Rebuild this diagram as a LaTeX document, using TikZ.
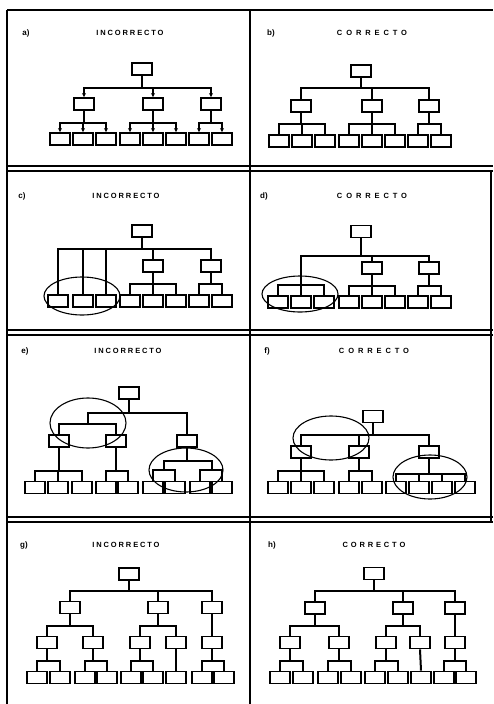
\documentclass[tikz,border=0pt]{standalone}
\usepackage{fontspec}
\setmainfont{Liberation Sans}
\newfontfamily\ttlI{Liberation Sans}[LetterSpace=25]
\newfontfamily\ttlC{Liberation Sans}[LetterSpace=52]
\newfontfamily\ttlH{Liberation Sans}[LetterSpace=38]
\usetikzlibrary{arrows.meta}
\begin{document}
\begin{tikzpicture}[x=1pt,y=-1pt,
  bx/.style={draw,line width=1.8pt,minimum width=20pt,minimum height=12pt,inner sep=0pt},
  conn/.style={line width=2pt},
  aconn/.style={line width=1.6pt,-{Stealth[length=4pt,width=4pt]}},
  ring/.style={draw,line width=1.1pt},
  frame/.style={line width=1.3pt},
  lab/.style={font=\bfseries\fontsize{8}{8}\selectfont,inner sep=0pt},
  tI/.style={font=\ttlI\bfseries\fontsize{7.5}{7.5}\selectfont,inner sep=0pt},
  tC/.style={font=\ttlC\bfseries\fontsize{7.5}{7.5}\selectfont,inner sep=0pt},
  tH/.style={font=\ttlH\bfseries\fontsize{7.5}{7.5}\selectfont,inner sep=0pt}]
\useasboundingbox (0,0) rectangle (493,704);
% frames
\draw[frame] (7,10) -- (493,10);
\draw[frame] (7,10) -- (7,704);
\draw[frame] (250,10) -- (250,704);
\draw[frame] (491,171) -- (491,522);
\foreach \y in {166,171,330,335,517,522} \draw[frame] (7,\y) -- (493,\y);

% ---------- panel a
\node[lab] at (26,33) {a)};
\node[tI] at (130,33) {INCORRECTO};
\node[bx] (a0) at (142,69) {};
\foreach \n/\x in {a1/84,a2/153,a3/211} \node[bx] (\n) at (\x,104) {};
\foreach \n/\x in {a11/60,a12/83,a13/106,a21/130,a22/153,a23/176,a31/199,a32/222} \node[bx] (\n) at (\x,139) {};
\foreach \c in {a1,a2,a3} \draw[aconn] (a0.south) -- ++(0,12) -| (\c.north);
\foreach \c in {a11,a12,a13} \draw[aconn] (a1.south) -- ++(0,12) -| (\c.north);
\foreach \c in {a21,a22,a23} \draw[aconn] (a2.south) -- ++(0,12) -| (\c.north);
\foreach \c in {a31,a32} \draw[aconn] (a3.south) -- ++(0,12) -| (\c.north);

% ---------- panel b
\node[lab] at (271,33) {b)};
\node[tC] at (372,33) {CORRECTO};
\node[bx] (b0) at (361,71) {};
\foreach \n/\x in {b1/301,b2/372,b3/429} \node[bx] (\n) at (\x,106) {};
\foreach \n/\x in {b11/279,b12/302,b13/325,b21/349,b22/372,b23/395,b31/418,b32/441} \node[bx] (\n) at (\x,141) {};
\foreach \c in {b1,b2,b3} \draw[conn] (b0.south) -- ++(0,10) -| (\c.north);
\foreach \c in {b11,b12,b13} \draw[conn] (b1.south) -- ++(0,11) -| (\c.north);
\foreach \c in {b21,b22,b23} \draw[conn] (b2.south) -- ++(0,11) -| (\c.north);
\foreach \c in {b31,b32} \draw[conn] (b3.south) -- ++(0,11) -| (\c.north);

% ---------- panel c
\node[lab] at (22,196) {c)};
\node[tI] at (126,196) {INCORRECTO};
\node[bx] (c0) at (142,231) {};
\foreach \n/\x in {c2/153,c3/211} \node[bx] (\n) at (\x,266) {};
\foreach \n/\x in {c11/58,c12/83,c13/106,c21/130,c22/153,c23/176,c31/199,c32/222} \node[bx] (\n) at (\x,301) {};
\foreach \c in {c11,c12,c13,c2,c3} \draw[conn] (c0.south) -- ++(0,11) -| (\c.north);
\foreach \c in {c21,c22,c23} \draw[conn] (c2.south) -- ++(0,11) -| (\c.north);
\foreach \c in {c31,c32} \draw[conn] (c3.south) -- ++(0,11) -| (\c.north);
\draw[ring] (82,296) ellipse [x radius=38, y radius=19];

% ---------- panel d
\node[lab] at (264,196) {d)};
\node[tC] at (372,196) {CORRECTO};
\node[bx] (d0) at (361,231.5) {};
\coordinate (dL) at (301,285);
\foreach \n/\x in {d2/372,d3/429} \node[bx] (\n) at (\x,268) {};
\foreach \n/\x in {d11/278,d12/301,d13/324,d21/349,d22/372,d23/395,d31/418,d32/441} \node[bx] (\n) at (\x,302) {};
\draw[conn] (d0.south) -- ++(0,18) -| (dL);
\foreach \c in {d2,d3} \draw[conn] (d0.south) -- ++(0,18) -| (\c.north);
\foreach \c in {d11,d12,d13} \draw[conn] (dL) -| (\c.north);
\foreach \c in {d21,d22,d23} \draw[conn] (d2.south) -- ++(0,11) -| (\c.north);
\foreach \c in {d31,d32} \draw[conn] (d3.south) -- ++(0,11) -| (\c.north);
\draw[ring] (300,294) ellipse [x radius=38, y radius=18];

% ---------- panel e
\node[lab] at (25,351) {e)};
\node[tI] at (128,351) {INCORRECTO};
\node[bx] (e0) at (129,393) {};
\coordinate (eL) at (88,424);
\foreach \n/\x in {e1/59,e2/116,e3/187} \node[bx] (\n) at (\x,441) {};
\foreach \n/\x in {e11/35,e12/58,e13/82,e21/106,e22/128,e31/153,e32/175,e41/200,e42/222} \node[bx] (\n) at (\x,487.5) {};
\coordinate (eRa) at (164,470);
\coordinate (eRb) at (212,470);
\draw[conn] (e0.south) -- ++(0,13) -| (eL);
\draw[conn] (e0.south) -- ++(0,13) -| (e3.north);
\foreach \c in {e1,e2} \draw[conn] (eL) -| (\c.north);
\foreach \c in {e11,e12,e13} \draw[conn] (e1.south) -- ++(0,23) -| (\c.north);
\foreach \c in {e21,e22} \draw[conn] (e2.south) -- ++(0,23) -| (\c.north);
\draw[conn] (e3.south) -- ++(0,13) -| (eRa);
\draw[conn] (e3.south) -- ++(0,13) -| (eRb);
\foreach \c in {e31,e32} \draw[conn] (eRa) -| (\c.north);
\foreach \c in {e41,e42} \draw[conn] (eRb) -| (\c.north);
\draw[ring] (88,423) ellipse [x radius=38, y radius=25];
\draw[ring] (186,470) ellipse [x radius=37, y radius=22];

% ---------- panel f
\node[lab] at (267,351) {f)};
\node[tC] at (374,351) {CORRECTO};
\node[bx] (f0) at (373,416.5) {};
\foreach \n/\x in {f1/301,f2/359,f3/429} \node[bx] (\n) at (\x,452) {};
\foreach \n/\x in {f11/278,f12/301,f13/324,f21/349,f22/372,f31/396,f32/419,f33/442,f34/465} \node[bx] (\n) at (\x,487.5) {};
\foreach \c in {f1,f2,f3} \draw[conn] (f0.south) -- ++(0,12) -| (\c.north);
\foreach \c in {f11,f12,f13} \draw[conn] (f1.south) -- ++(0,12) -| (\c.north);
\foreach \c in {f21,f22} \draw[conn] (f2.south) -- ++(0,12) -| (\c.north);
\foreach \c in {f31,f32,f33,f34} \draw[conn] (f3.south) -- ++(0,15) -| (\c.north);
\draw[ring] (331,438) ellipse [x radius=38, y radius=22];
\draw[ring] (430,477) ellipse [x radius=37, y radius=22];

% ---------- panel g
\node[lab] at (24,545) {g)};
\node[tI] at (126,545) {INCORRECTO};
\node[bx] (g0) at (129,574) {};
\foreach \n/\x in {g1/70,g2/158,g3/212} \node[bx] (\n) at (\x,607.5) {};
\foreach \n/\x in {g11/47,g12/93,g21/140,g22/176,g31/212} \node[bx] (\n) at (\x,642.5) {};
\foreach \n/\x in {g111/37,g112/60,g121/85,g122/107,g211/131,g212/153,g221/176,g311/202,g312/224} \node[bx] (\n) at (\x,677.5) {};
\foreach \c in {g1,g2,g3} \draw[conn] (g0.south) -- ++(0,10) -| (\c.north);
\foreach \c in {g11,g12} \draw[conn] (g1.south) -- ++(0,11.5) -| (\c.north);
\foreach \c in {g21,g22} \draw[conn] (g2.south) -- ++(0,11.5) -| (\c.north);
\draw[conn] (g3.south) -- (g31.north);
\foreach \c in {g111,g112} \draw[conn] (g11.south) -- ++(0,11.5) -| (\c.north);
\foreach \c in {g121,g122} \draw[conn] (g12.south) -- ++(0,11.5) -| (\c.north);
\foreach \c in {g211,g212} \draw[conn] (g21.south) -- ++(0,11.5) -| (\c.north);
\draw[conn] (g22.south) -- (g221.north);
\foreach \c in {g311,g312} \draw[conn] (g31.south) -- ++(0,11.5) -| (\c.north);

% ---------- panel h
\node[lab] at (272,545) {h)};
\node[tH] at (374,545) {CORRECTO};
\node[bx] (h0) at (374,573.5) {};
\foreach \n/\x in {h1/315,h2/403,h3/455} \node[bx] (\n) at (\x,608) {};
\foreach \n/\x in {h11/290,h12/339,h21/386,h22/420,h31/455} \node[bx] (\n) at (\x,642.5) {};
\foreach \n/\x in {h111/280,h112/303,h121/328,h122/351,h211/375,h212/398,h221/421,h311/444,h312/466} \node[bx] (\n) at (\x,677.5) {};
\foreach \c in {h1,h2,h3} \draw[conn] (h0.south) -- ++(0,11) -| (\c.north);
\foreach \c in {h11,h12} \draw[conn] (h1.south) -- ++(0,11) -| (\c.north);
\foreach \c in {h21,h22} \draw[conn] (h2.south) -- ++(0,11) -| (\c.north);
\draw[conn] (h3.south) -- (h31.north);
\foreach \c in {h111,h112} \draw[conn] (h11.south) -- ++(0,11.5) -| (\c.north);
\foreach \c in {h121,h122} \draw[conn] (h12.south) -- ++(0,11.5) -| (\c.north);
\foreach \c in {h211,h212} \draw[conn] (h21.south) -- ++(0,11.5) -| (\c.north);
\draw[conn] (h22.south) -- (h221.north);
\foreach \c in {h311,h312} \draw[conn] (h31.south) -- ++(0,11.5) -| (\c.north);
\end{tikzpicture}
\end{document}
